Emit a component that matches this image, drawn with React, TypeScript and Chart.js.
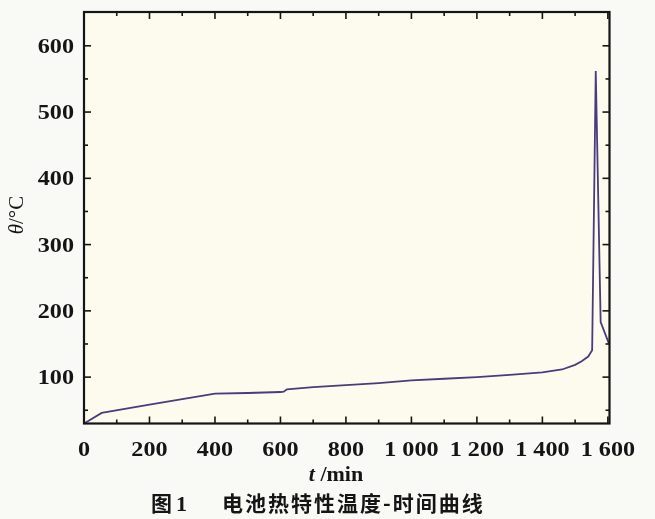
import React, { useEffect, useRef } from "react";
import { Chart, registerables } from "chart.js";

Chart.register(...registerables);

// ---- data ----
const timeMin = [0, 54, 200, 400, 500, 600, 610, 620, 700, 800, 900, 1000, 1100, 1200, 1300, 1400, 1460, 1500, 1520, 1540, 1552, 1563, 1578, 1603];
const tempC = [30, 46, 58.5, 75, 76, 77.5, 78, 81.5, 85, 88, 91, 95, 97.5, 100, 103.5, 107, 111.5, 118.5, 124, 131, 140.5, 562, 183, 151];

const xMajorTicks = [0, 200, 400, 600, 800, 1000, 1200, 1400, 1600];
const xMinorTicks = [100, 300, 500, 700, 900, 1100, 1300, 1500];
const yMajorTicks = [100, 200, 300, 400, 500, 600];
const yMinorTicks = [50, 150, 250, 350, 450, 550];

const xTitleItalic = "t";
const xTitleRest = " /min";
const yTitleItalic = "θ";
const yTitleRest = "/°C";
const captionFig = "图";
const captionNum = "1";
const captionText = "电池热特性温度-时间曲线";

const X_MIN = 0;
const X_MAX = 1605;
const Y_MIN = 30;
const Y_MAX = 651;

const TICK_FONT = "bold 21px 'Liberation Serif', serif";
const TICK_STRETCH = 1.15;

const fmtX = (v: number) => {
  if (v >= 1000) {
    const s = String(v);
    return s.slice(0, s.length - 3) + " " + s.slice(s.length - 3);
  }
  return String(v);
};

const framePlugin = {
  id: "frameAndTitles",
  beforeDraw(chart: any) {
    const { ctx, chartArea: a, width, height } = chart;
    ctx.save();
    ctx.fillStyle = "#f9f9f6";
    ctx.fillRect(0, 0, width, height);
    ctx.fillStyle = "#fcfbee";
    ctx.fillRect(a.left, a.top, a.right - a.left, a.bottom - a.top);
    ctx.restore();
  },
  afterDraw(chart: any) {
    const { ctx, chartArea: a, scales } = chart;
    const xs = scales.x;
    const ys = scales.y;
    ctx.save();
    ctx.strokeStyle = "#151515";
    ctx.lineWidth = 1.6;
    const seg = (x1: number, y1: number, x2: number, y2: number) => {
      ctx.beginPath();
      ctx.moveTo(x1, y1);
      ctx.lineTo(x2, y2);
      ctx.stroke();
    };
    const xTick = (v: number, len: number) => {
      const p = xs.getPixelForValue(v);
      seg(p, a.bottom, p, a.bottom - len);
      seg(p, a.top, p, a.top + len);
    };
    const yTick = (v: number, len: number) => {
      const p = ys.getPixelForValue(v);
      seg(a.left, p, a.left + len, p);
      seg(a.right, p, a.right - len, p);
    };
    xMajorTicks.forEach((v) => xTick(v, 7));
    xMinorTicks.forEach((v) => xTick(v, 4));
    yMajorTicks.forEach((v) => yTick(v, 7));
    yMinorTicks.forEach((v) => yTick(v, 4));

    ctx.lineWidth = 2.2;
    ctx.strokeRect(a.left, a.top, a.right - a.left, a.bottom - a.top);

    ctx.fillStyle = "#151515";
    ctx.textBaseline = "alphabetic";

    // tick labels (slightly widened serif, like the reference)
    const drawStretched = (text: string, x: number, y: number, align: CanvasTextAlign) => {
      ctx.save();
      ctx.translate(x, y);
      ctx.scale(TICK_STRETCH, 1);
      ctx.font = TICK_FONT;
      ctx.textAlign = align;
      ctx.fillText(text, 0, 0);
      ctx.restore();
    };
    xMajorTicks.forEach((v) => {
      drawStretched(fmtX(v), xs.getPixelForValue(v), a.bottom + 32, "center");
    });
    yMajorTicks.forEach((v) => {
      drawStretched(String(v), a.left - 10, ys.getPixelForValue(v) + 7, "right");
    });

    // x title
    const fItalic = "italic bold 22px 'Liberation Serif', serif";
    const fBold = "bold 22px 'Liberation Serif', serif";
    ctx.font = fItalic;
    const w1 = ctx.measureText(xTitleItalic).width;
    ctx.font = fBold;
    const w2 = ctx.measureText(xTitleRest).width;
    const xs0 = 336 - (w1 + w2) / 2;
    ctx.font = fItalic;
    ctx.textAlign = "left";
    ctx.fillText(xTitleItalic, xs0, 481);
    ctx.font = fBold;
    ctx.fillText(xTitleRest, xs0 + w1, 481);

    // y title (rotated)
    ctx.save();
    ctx.translate(23, 215);
    ctx.rotate(-Math.PI / 2);
    const yI = "italic 21px 'Liberation Serif', serif";
    const yR = "21px 'Liberation Serif', serif";
    ctx.font = yI;
    const yw1 = ctx.measureText(yTitleItalic).width;
    ctx.font = yR;
    const yw2 = ctx.measureText(yTitleRest).width;
    const ys0 = -(yw1 + yw2) / 2;
    ctx.font = yI;
    ctx.fillText(yTitleItalic, ys0, 0);
    ctx.font = yR;
    ctx.fillText(yTitleRest, ys0 + yw1, 0);
    ctx.restore();

    // caption
    ctx.font = "bold 21px 'Noto Sans CJK SC', sans-serif";
    ctx.fillText(captionFig, 151, 511);
    ctx.font = "bold 22px 'Liberation Serif', serif";
    ctx.fillText(captionNum, 176, 511);
    ctx.font = "bold 21px 'Noto Sans CJK SC', sans-serif";
    try {
      (ctx as any).letterSpacing = "2px";
    } catch (e) {}
    ctx.fillText(captionText, 222, 511);
    try {
      (ctx as any).letterSpacing = "0px";
    } catch (e) {}

    ctx.restore();
  },
};

export default function App() {
  const ref = useRef<HTMLCanvasElement | null>(null);
  useEffect(() => {
    if (!ref.current) return;
    const points = timeMin.map((t, i) => ({ x: t, y: tempC[i] }));
    const chart = new Chart(ref.current, {
      type: "line",
      data: {
        datasets: [
          {
            data: points,
            borderColor: "#4a3b7c",
            borderWidth: 1.8,
            pointRadius: 0,
            tension: 0,
            fill: false,
          },
        ],
      },
      options: {
        responsive: false,
        animation: false,
        events: [],
        layout: { padding: { left: 0, right: 45.5, top: 12, bottom: 0 } },
        plugins: { legend: { display: false }, tooltip: { enabled: false }, title: { display: false } },
        scales: {
          x: {
            type: "linear",
            min: X_MIN,
            max: X_MAX,
            grid: { display: false, drawTicks: false },
            border: { display: false },
            afterBuildTicks: (axis: any) => {
              axis.ticks = xMajorTicks.map((v) => ({ value: v }));
            },
            afterFit: (s: any) => {
              s.height = 95.5;
              s.paddingLeft = 0;
              s.paddingRight = 0;
            },
            ticks: { display: false },
          },
          y: {
            type: "linear",
            min: Y_MIN,
            max: Y_MAX,
            grid: { display: false, drawTicks: false },
            border: { display: false },
            afterBuildTicks: (axis: any) => {
              axis.ticks = yMajorTicks.map((v) => ({ value: v }));
            },
            afterFit: (s: any) => {
              s.width = 84;
              s.paddingTop = 0;
              s.paddingBottom = 0;
            },
            ticks: { display: false },
          },
        },
      },
      plugins: [framePlugin],
    });
    return () => chart.destroy();
  }, []);
  return (
    <div style={{ position: "absolute", left: 0, top: 0, width: 655, height: 519, background: "#f9f9f6" }}>
      <canvas ref={ref} width={655} height={519} style={{ display: "block" }} />
    </div>
  );
}
